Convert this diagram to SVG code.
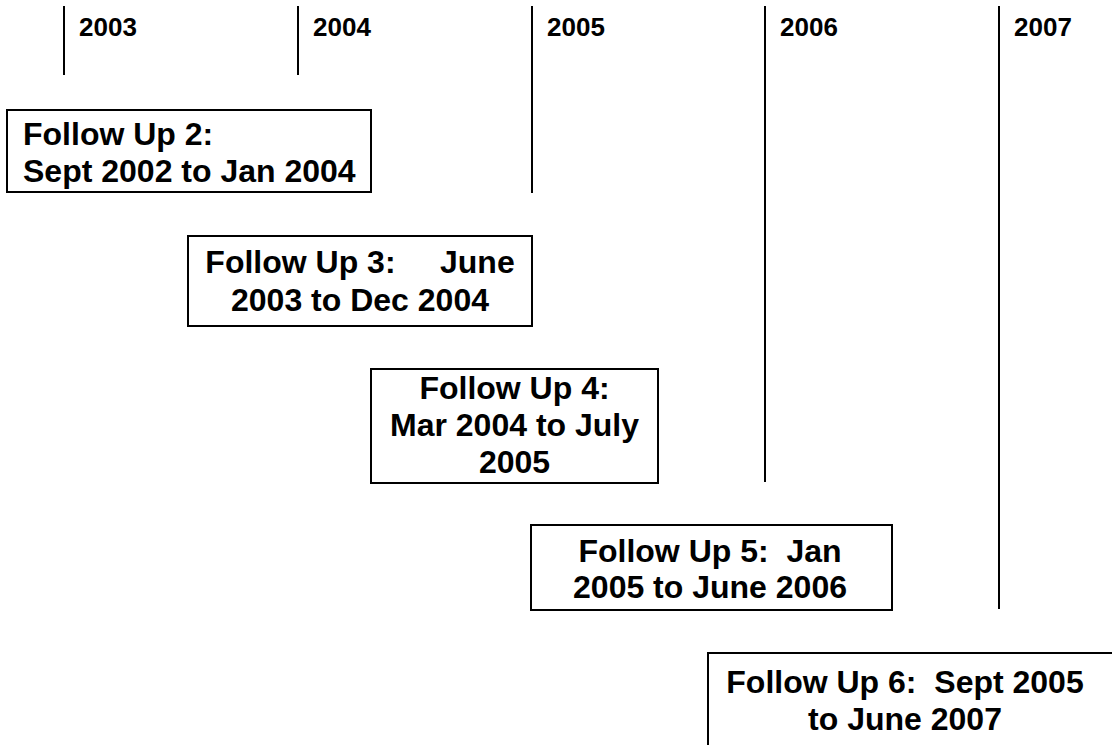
<svg xmlns="http://www.w3.org/2000/svg" width="1112" height="745" viewBox="0 0 1112 745">
<style>
.yr{font-family:"Liberation Sans",Arial,sans-serif;font-weight:bold;font-size:26px;fill:#000}
.t{font-family:"Liberation Sans",Arial,sans-serif;font-weight:bold;font-size:32px;fill:#000;white-space:pre}
.c{text-anchor:middle}
.box{fill:#fff;stroke:#000;stroke-width:2}
.ln{stroke:#000;stroke-width:2}
</style>
<rect width="1112" height="745" fill="#fff"/>
<g id="connectors">
<line class="ln" x1="64" y1="6" x2="64" y2="75"/>
<line class="ln" x1="298" y1="6" x2="298" y2="75"/>
<line class="ln" x1="532" y1="6" x2="532" y2="193"/>
<line class="ln" x1="765" y1="6" x2="765" y2="482"/>
<line class="ln" x1="999" y1="6" x2="999" y2="609"/>
</g>
<g id="years">
<text class="yr" x="79" y="36">2003</text>
<text class="yr" x="313" y="36">2004</text>
<text class="yr" x="547" y="36">2005</text>
<text class="yr" x="780" y="36">2006</text>
<text class="yr" x="1014" y="36">2007</text>
</g>
<g id="fu2">
<rect class="box" x="7" y="110" width="364" height="82"/>
<text class="t" x="23" y="145">Follow Up 2:</text>
<text class="t" x="23" y="182">Sept 2002 to Jan 2004</text>
</g>
<g id="fu3">
<rect class="box" x="188" y="236" width="344" height="90"/>
<text class="t c" x="360" y="273" xml:space="preserve">Follow Up 3:     June</text>
<text class="t c" x="360" y="311">2003 to Dec 2004</text>
</g>
<g id="fu4">
<rect class="box" x="371" y="369" width="287" height="114"/>
<text class="t c" x="514.5" y="399">Follow Up 4:</text>
<text class="t c" x="514.5" y="436">Mar 2004 to July</text>
<text class="t c" x="514.5" y="473">2005</text>
</g>
<g id="fu5">
<rect class="box" x="531" y="525" width="361" height="85"/>
<text class="t c" x="710" y="562" xml:space="preserve">Follow Up 5:  Jan</text>
<text class="t c" x="710" y="598">2005 to June 2006</text>
</g>
<g id="fu6">
<rect class="box" x="708" y="653" width="420" height="110"/>
<text class="t c" x="905" y="693" xml:space="preserve">Follow Up 6:  Sept 2005</text>
<text class="t c" x="905" y="730">to June 2007</text>
</g>
</svg>
